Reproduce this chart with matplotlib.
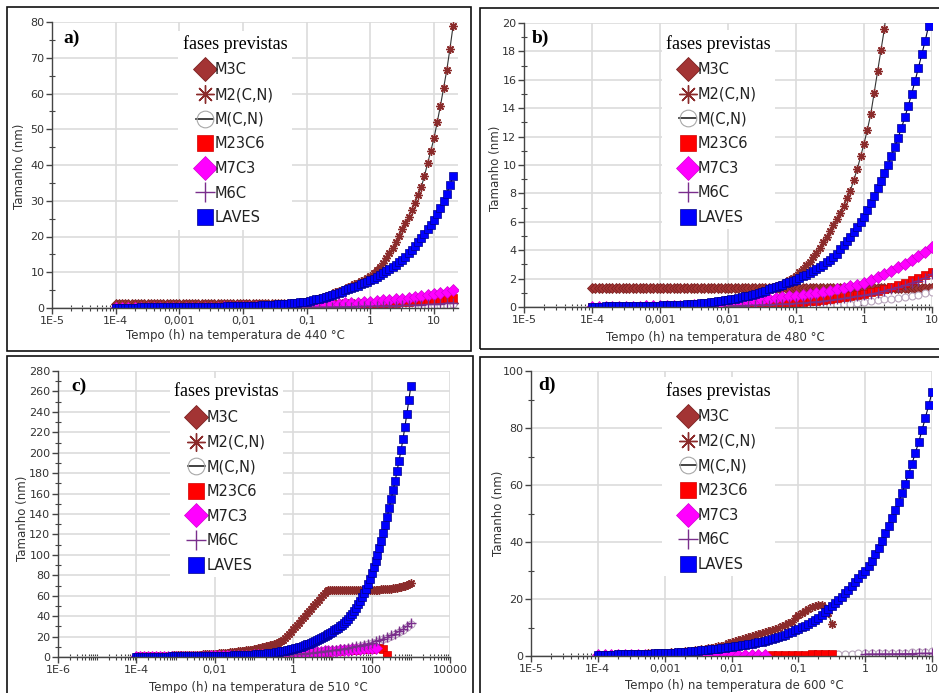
import numpy as np
import matplotlib
matplotlib.use('Agg')
import matplotlib.pyplot as plt
from matplotlib.lines import Line2D
from matplotlib.patches import Rectangle
from matplotlib.font_manager import FontProperties
from matplotlib.ticker import FixedLocator, MultipleLocator, LogLocator, NullFormatter

# tamanho medio (nm) das fases vs tempo
# cada serie: expoente do primeiro tempo (log10 h), passo em decadas e valores

# ---- a) 440 C ----
a_m3c_t0, a_m3c_dt = -4.0, 0.05
a_m3c = [1.20, 1.20, 1.20, 1.20, 1.20, 1.20, 1.20, 1.20, 1.20, 1.20, 1.20, 1.20, 1.20, 1.20, 1.20, 1.20, 1.20, 1.20, 1.20, 1.20,
         1.20, 1.20, 1.20, 1.20, 1.20, 1.20, 1.20, 1.20, 1.20, 1.20, 1.20, 1.20, 1.20, 1.20, 1.20, 1.20, 1.20, 1.20, 1.20, 1.20,
         1.20, 1.20, 1.20, 1.20, 1.20, 1.20, 1.20, 1.20, 1.20, 1.20, 1.20, 1.20, 1.20, 1.20, 1.20, 1.20, 1.20, 1.20, 1.20, 1.20,
         1.20, 1.20, 1.20, 1.20, 1.20, 1.20, 1.20, 1.20, 1.20, 1.20, 1.20, 1.20, 1.20, 1.20, 1.20, 1.20, 1.20, 1.20, 1.20, 1.20,
         1.20, 1.21, 1.22, 1.23, 1.24, 1.25, 1.26, 1.27, 1.28, 1.29, 1.30, 1.31, 1.32, 1.33, 1.34, 1.35, 1.36, 1.37, 1.38, 1.39,
         1.40, 1.41, 1.42, 1.44, 1.46, 1.48, 1.50]
a_m2_t0, a_m2_dt = -4.0, 0.05
a_m2 = [0.08, 0.085, 0.09, 0.095, 0.10, 0.105, 0.11, 0.115, 0.12, 0.125, 0.13, 0.135, 0.14, 0.145, 0.15, 0.155, 0.16, 0.165, 0.17, 0.175,
        0.18, 0.19, 0.20, 0.21, 0.22, 0.235, 0.25, 0.265, 0.28, 0.295, 0.31, 0.325, 0.34, 0.355, 0.37, 0.385, 0.40, 0.42, 0.44, 0.46,
        0.48, 0.515, 0.55, 0.585, 0.62, 0.66, 0.70, 0.75, 0.80, 0.85, 0.90, 0.975, 1.05, 1.13, 1.22, 1.31, 1.40, 1.50, 1.60, 1.72,
        1.85, 2.07, 2.3, 2.55, 2.8, 3.1, 3.4, 3.7, 4.0, 4.35, 4.7, 5.05, 5.4, 5.8, 6.2, 6.6, 7.0, 7.45, 7.9, 8.45,
        9.0, 9.7, 10.5, 11.5, 12.6, 13.9, 15.3, 16.8, 18.4, 20.2, 22.0, 23.7, 25.5, 27.5, 29.5, 31.6, 33.8, 37.0, 40.5, 44.0,
        47.5, 52.0, 56.5, 61.5, 66.5, 72.5, 79.0]
a_mcn_t0, a_mcn_dt = -1.0, 0.1
a_mcn = [0.05, 0.06, 0.07, 0.08, 0.10, 0.12, 0.14, 0.16, 0.19, 0.22,
         0.25, 0.28, 0.32, 0.36, 0.40, 0.45, 0.50, 0.56, 0.62, 0.69,
         0.76, 0.84, 0.92, 1.00]
a_m23_t0, a_m23_dt = -4.0, 0.1
a_m23 = [0.01, 0.01, 0.01, 0.01, 0.02, 0.02, 0.02, 0.02, 0.03, 0.03,
         0.03, 0.04, 0.04, 0.05, 0.05, 0.06, 0.07, 0.08, 0.09, 0.10,
         0.11, 0.13, 0.15, 0.17, 0.19, 0.22, 0.25, 0.29, 0.33, 0.37,
         0.40, 0.45, 0.50, 0.56, 0.62, 0.68, 0.74, 0.80, 0.87, 0.93,
         1.00, 1.11, 1.22, 1.34, 1.46, 1.60, 1.72, 1.85, 1.99, 2.14,
         2.30, 2.48, 2.68, 2.90]
a_m7_t0, a_m7_dt = -4.0, 0.1
a_m7 = [0.02, 0.02, 0.02, 0.03, 0.03, 0.03, 0.04, 0.04, 0.05, 0.05,
        0.06, 0.07, 0.08, 0.09, 0.10, 0.11, 0.13, 0.15, 0.17, 0.19,
        0.21, 0.24, 0.27, 0.31, 0.35, 0.39, 0.44, 0.50, 0.56, 0.63,
        0.70, 0.78, 0.86, 0.95, 1.05, 1.15, 1.27, 1.40, 1.53, 1.66,
        1.80, 1.95, 2.10, 2.27, 2.45, 2.65, 2.86, 3.08, 3.32, 3.58,
        3.90, 4.25, 4.60, 5.00]
a_m6_t0, a_m6_dt = -2.0, 0.1
a_m6 = [0.05, 0.06, 0.07, 0.08, 0.09, 0.10, 0.12, 0.14, 0.16, 0.18,
        0.20, 0.22, 0.25, 0.28, 0.31, 0.34, 0.37, 0.40, 0.44, 0.47,
        0.50, 0.54, 0.58, 0.62, 0.67, 0.72, 0.78, 0.85, 0.92, 1.00,
        1.10, 1.21, 1.34, 1.48]
a_lav_t0, a_lav_dt = -4.0, 0.05
a_lav = [0.10, 0.105, 0.11, 0.115, 0.12, 0.125, 0.13, 0.135, 0.14, 0.145, 0.15, 0.155, 0.16, 0.165, 0.17, 0.175, 0.18, 0.185, 0.19, 0.195,
         0.20, 0.215, 0.23, 0.24, 0.25, 0.265, 0.28, 0.295, 0.31, 0.33, 0.35, 0.365, 0.38, 0.395, 0.41, 0.425, 0.44, 0.455, 0.47, 0.485,
         0.50, 0.535, 0.57, 0.605, 0.64, 0.68, 0.72, 0.765, 0.81, 0.855, 0.90, 0.98, 1.06, 1.15, 1.24, 1.33, 1.42, 1.51, 1.60, 1.70,
         1.80, 2.0, 2.2, 2.4, 2.6, 2.85, 3.1, 3.4, 3.7, 4.0, 4.3, 4.6, 4.9, 5.25, 5.6, 5.9, 6.2, 6.6, 7.0, 7.4,
         7.8, 8.25, 8.7, 9.2, 9.7, 10.3, 10.9, 11.5, 12.1, 12.8, 13.5, 14.4, 15.3, 16.3, 17.4, 18.5, 19.6, 20.8, 22.0, 23.3,
         24.6, 26.2, 28.0, 30.0, 32.0, 34.4, 37.0]

# ---- b) 480 C ----
b_m3c_t0, b_m3c_dt = -4.0, 0.05
b_m3c = [1.35, 1.35, 1.35, 1.35, 1.35, 1.35, 1.35, 1.35, 1.35, 1.35, 1.35, 1.35, 1.35, 1.35, 1.35, 1.35, 1.35, 1.35, 1.35, 1.35,
         1.35, 1.35, 1.35, 1.35, 1.35, 1.35, 1.35, 1.35, 1.35, 1.35, 1.35, 1.35, 1.35, 1.35, 1.35, 1.35, 1.35, 1.35, 1.35, 1.35,
         1.35, 1.35, 1.35, 1.35, 1.35, 1.35, 1.35, 1.35, 1.35, 1.35, 1.35, 1.35, 1.35, 1.35, 1.35, 1.35, 1.35, 1.35, 1.35, 1.35,
         1.35, 1.35, 1.35, 1.35, 1.35, 1.35, 1.35, 1.35, 1.35, 1.35, 1.35, 1.35, 1.35, 1.35, 1.35, 1.35, 1.35, 1.35, 1.35, 1.35,
         1.35, 1.35, 1.35, 1.35, 1.35, 1.35, 1.35, 1.35, 1.35, 1.35, 1.35, 1.35, 1.35, 1.35, 1.35, 1.35, 1.35, 1.35, 1.35, 1.35,
         1.35]
b_m2_t0, b_m2_dt = -4.0, 0.05
b_m2 = [0.03, 0.03, 0.03, 0.035, 0.04, 0.04, 0.04, 0.045, 0.05, 0.05, 0.05, 0.055, 0.06, 0.065, 0.07, 0.075, 0.08, 0.085, 0.09, 0.095,
        0.10, 0.11, 0.12, 0.13, 0.14, 0.15, 0.16, 0.175, 0.19, 0.205, 0.22, 0.24, 0.26, 0.285, 0.31, 0.335, 0.36, 0.395, 0.43, 0.465,
        0.50, 0.54, 0.58, 0.63, 0.68, 0.74, 0.80, 0.87, 0.94, 1.02, 1.10, 1.18, 1.27, 1.36, 1.45, 1.55, 1.65, 1.77, 1.90, 2.05,
        2.20, 2.45, 2.70, 2.95, 3.20, 3.50, 3.80, 4.17, 4.55, 4.95, 5.35, 5.77, 6.20, 6.65, 7.10, 7.65, 8.20, 8.95, 9.70, 10.6,
        11.5, 12.5, 13.6, 15.1, 16.6, 18.1, 19.6, 21.8, 24.0]
b_mcn_t0, b_mcn_dt = -1.0, 0.1
b_mcn = [0.02, 0.03, 0.04, 0.05, 0.07, 0.10, 0.14, 0.19, 0.24, 0.29,
         0.35, 0.41, 0.47, 0.53, 0.59, 0.65, 0.72, 0.79, 0.87, 0.96,
         1.05]
b_m23_t0, b_m23_dt = -4.0, 0.1
b_m23 = [0.01, 0.01, 0.01, 0.01, 0.01, 0.02, 0.02, 0.02, 0.02, 0.03,
         0.03, 0.03, 0.04, 0.04, 0.05, 0.05, 0.06, 0.07, 0.08, 0.09,
         0.10, 0.11, 0.12, 0.14, 0.16, 0.18, 0.20, 0.22, 0.25, 0.27,
         0.30, 0.34, 0.39, 0.44, 0.49, 0.55, 0.62, 0.70, 0.78, 0.86,
         0.95, 1.05, 1.16, 1.28, 1.41, 1.55, 1.71, 1.88, 2.07, 2.28,
         2.50]
b_m7_t0, b_m7_dt = -4.0, 0.1
b_m7 = [0.01, 0.01, 0.01, 0.02, 0.02, 0.02, 0.03, 0.03, 0.04, 0.04,
        0.05, 0.06, 0.07, 0.08, 0.09, 0.11, 0.13, 0.15, 0.18, 0.21,
        0.25, 0.30, 0.35, 0.40, 0.45, 0.50, 0.56, 0.62, 0.68, 0.74,
        0.80, 0.86, 0.92, 0.99, 1.07, 1.15, 1.25, 1.36, 1.47, 1.58,
        1.70, 1.88, 2.08, 2.30, 2.54, 2.80, 3.05, 3.32, 3.60, 3.90,
        4.20]
b_m6_t0, b_m6_dt = -2.0, 0.1
b_m6 = [0.08, 0.09, 0.10, 0.11, 0.13, 0.15, 0.17, 0.19, 0.21, 0.23,
        0.26, 0.29, 0.33, 0.37, 0.42, 0.47, 0.53, 0.60, 0.67, 0.75,
        0.83, 0.92, 1.02, 1.13, 1.25, 1.38, 1.52, 1.68, 1.86, 2.06,
        2.30]
b_lav_t0, b_lav_dt = -4.0, 0.05
b_lav = [0.03, 0.03, 0.03, 0.035, 0.04, 0.04, 0.04, 0.045, 0.05, 0.05, 0.05, 0.055, 0.06, 0.065, 0.07, 0.075, 0.08, 0.085, 0.09, 0.095,
         0.10, 0.11, 0.12, 0.13, 0.14, 0.15, 0.16, 0.175, 0.19, 0.205, 0.22, 0.24, 0.26, 0.285, 0.31, 0.335, 0.36, 0.395, 0.43, 0.465,
         0.50, 0.54, 0.58, 0.63, 0.68, 0.74, 0.80, 0.87, 0.94, 1.01, 1.08, 1.16, 1.24, 1.32, 1.40, 1.485, 1.57, 1.655, 1.74, 1.83,
         1.92, 2.03, 2.15, 2.27, 2.40, 2.54, 2.68, 2.83, 2.98, 3.14, 3.30, 3.52, 3.75, 4.05, 4.35, 4.65, 4.95, 5.27, 5.60, 5.97,
         6.35, 6.82, 7.30, 7.82, 8.35, 8.90, 9.45, 10.0, 10.6, 11.25, 11.9, 12.6, 13.35, 14.15, 15.0, 15.9, 16.85, 17.8, 18.75, 19.8]

# ---- c) 510 C ----
c_m2_t0, c_m2_dt = -4.0, 0.05
c_m2 = [1.0, 1.0, 1.0, 1.05, 1.1, 1.1, 1.1, 1.15, 1.2, 1.2, 1.2, 1.25, 1.3, 1.3, 1.3, 1.35, 1.4, 1.45, 1.5, 1.55,
        1.6, 1.65, 1.7, 1.75, 1.8, 1.85, 1.9, 1.95, 2.0, 2.05, 2.1, 2.2, 2.3, 2.4, 2.5, 2.6, 2.7, 2.8, 2.9, 3.05,
        3.2, 3.35, 3.5, 3.65, 3.8, 4.0, 4.2, 4.4, 4.6, 4.8, 5.0, 5.25, 5.5, 5.75, 6.0, 6.25, 6.5, 6.75, 7.0, 7.25,
        7.5, 8.0, 8.5, 9.0, 9.5, 10.0, 10.5, 11.0, 11.5, 12.05, 12.6, 13.2, 13.8, 14.6, 15.5, 17.0, 18.5, 20.5, 22.5, 24.7,
        27.0, 29.2, 31.5, 33.7, 36.0, 38.2, 40.5, 42.7, 45.0, 47.2, 49.5, 51.7, 54.0, 56.2, 58.5, 60.7, 63.0, 64.5, 65.3, 65.5,
        65.5, 65.5, 65.5, 65.5, 65.5, 65.5, 65.5, 65.5, 65.5, 65.5, 65.5, 65.5, 65.5, 65.5, 65.5, 65.5, 65.5, 65.5, 65.5, 65.5,
        65.6, 65.7, 65.8, 65.9, 66.0, 66.15, 66.3, 66.45, 66.6, 66.8, 67.0, 67.25, 67.5, 67.85, 68.2, 68.6, 69.1, 69.7, 70.4, 71.2,
        72.0]
c_mcn_t0, c_mcn_dt = 0.0, 0.1
c_mcn = [2.2, 2.5, 2.8, 3.1, 3.4, 3.7, 4.1, 4.6, 5.1, 5.6,
         6.1, 6.6, 7.1, 7.7, 8.4, 9.1, 9.9, 10.8, 11.7, 12.6,
         13.6, 14.8, 16.1, 17.5, 19.0, 20.7, 22.5, 24.5, 26.7, 29.4,
         32.4]
c_m23_t0, c_m23_dt = -2.0, 0.1
c_m23 = [0.30, 0.34, 0.38, 0.43, 0.48, 0.54, 0.61, 0.69, 0.78, 0.88,
         1.00, 1.13, 1.27, 1.42, 1.58, 1.75, 1.93, 2.12, 2.32, 2.53,
         2.75, 2.98, 3.22, 3.47, 3.73, 4.00, 4.28, 4.57, 4.87, 5.18,
         5.50, 5.80, 6.10, 6.40, 6.70, 7.00, 7.30, 7.55, 7.80, 8.00,
         8.30, 8.70, 9.00, 8.00, 2.00]
c_m7_t0, c_m7_dt = -4.0, 0.1
c_m7 = [0.05, 0.06, 0.07, 0.08, 0.09, 0.10, 0.12, 0.14, 0.16, 0.18,
        0.20, 0.23, 0.26, 0.29, 0.32, 0.35, 0.38, 0.42, 0.46, 0.50,
        0.55, 0.60, 0.66, 0.72, 0.79, 0.87, 0.96, 1.06, 1.18, 1.32,
        1.50, 1.68, 1.86, 2.05, 2.25, 2.45, 2.66, 2.87, 3.08, 3.29,
        3.50, 3.75, 4.00, 4.25, 4.50, 4.75, 5.00, 5.25, 5.50, 5.75,
        6.00, 6.30, 6.60, 6.90, 7.20, 7.50, 7.80, 8.10, 8.35, 8.60,
        8.85, 9.20]
c_m6_t0, c_m6_dt = -2.0, 0.1
c_m6 = [0.30, 0.35, 0.40, 0.45, 0.50, 0.55, 0.60, 0.66, 0.72, 0.76,
        0.80, 0.95, 1.10, 1.25, 1.40, 1.55, 1.72, 1.90, 2.10, 2.30,
        2.50, 2.80, 3.10, 3.40, 3.70, 4.00, 4.45, 4.95, 5.45, 5.95,
        6.50, 7.00, 7.50, 8.10, 8.80, 9.50, 10.3, 11.2, 12.1, 13.0,
        14.0, 15.2, 16.5, 18.0, 19.5, 21.2, 23.0, 25.0, 27.2, 30.0,
        33.0]
c_lav_t0, c_lav_dt = -4.0, 0.05
c_lav = [0.30, 0.305, 0.31, 0.315, 0.32, 0.33, 0.34, 0.35, 0.36, 0.37, 0.38, 0.39, 0.40, 0.415, 0.43, 0.445, 0.46, 0.475, 0.49, 0.505,
         0.52, 0.54, 0.56, 0.58, 0.60, 0.625, 0.65, 0.675, 0.70, 0.725, 0.75, 0.775, 0.80, 0.825, 0.85, 0.875, 0.90, 0.925, 0.95, 0.975,
         1.0, 1.05, 1.1, 1.15, 1.2, 1.25, 1.3, 1.35, 1.4, 1.45, 1.5, 1.55, 1.6, 1.67, 1.75, 1.82, 1.9, 2.0, 2.1, 2.2,
         2.3, 2.45, 2.6, 2.75, 2.9, 3.1, 3.3, 3.5, 3.7, 3.95, 4.2, 4.5, 4.8, 5.15, 5.5, 5.9, 6.3, 6.7, 7.1, 7.55,
         8.0, 8.5, 9.0, 9.6, 10.2, 10.85, 11.5, 12.25, 13.0, 13.8, 14.6, 15.5, 16.4, 17.4, 18.4, 19.45, 20.5, 21.55, 22.6, 23.7,
         24.8, 26.0, 27.2, 28.6, 30.0, 31.8, 33.6, 35.5, 37.5, 39.9, 42.3, 45.1, 48.0, 51.4, 54.8, 58.6, 62.5, 67.0, 71.5, 76.7,
         82.0, 87.7, 93.5, 100.0, 106.5, 113.7, 121.0, 129.2, 137.5, 146.2, 155.0, 163.5, 172.0, 182.0, 192.0, 202.5, 213.0, 225.5, 238.0, 251.5,
         265.0]

# ---- d) 600 C ----
d_m2_t0, d_m2_dt = -4.0, 0.05
d_m2 = [0.45, 0.475, 0.50, 0.525, 0.55, 0.575, 0.60, 0.63, 0.66, 0.69, 0.72, 0.75, 0.78, 0.82, 0.86, 0.905, 0.95, 1.0, 1.05, 1.10,
        1.15, 1.22, 1.30, 1.37, 1.45, 1.55, 1.65, 1.77, 1.90, 2.05, 2.20, 2.37, 2.55, 2.75, 2.95, 3.17, 3.40, 3.65, 3.90, 4.40,
        4.9, 5.2, 5.5, 5.85, 6.2, 6.55, 6.9, 7.25, 7.6, 8.0, 8.4, 8.8, 9.2, 9.6, 10.0, 10.5, 11.0, 11.55, 12.1, 13.2,
        14.3, 15.05, 15.8, 16.55, 17.3, 17.7, 18.0, 17.8, 17.0, 15.0, 11.3]
d_mcn_t0, d_mcn_dt = -0.5, 0.1
d_mcn = [0.80, 0.82, 0.84, 0.86, 0.88, 0.90, 0.93, 0.96, 1.00, 1.05,
         1.10, 1.17, 1.25, 1.35, 1.47, 1.60]
d_m23_t0, d_m23_dt = -1.4, 0.1
d_m23 = [0.50, 0.50, 0.51, 0.51, 0.52, 0.52, 0.53, 0.53, 0.54, 0.54]
d_m7_t0, d_m7_dt = -4.0, 0.1
d_m7 = [0.30, 0.30, 0.31, 0.31, 0.32, 0.32, 0.33, 0.33, 0.34, 0.34,
        0.35, 0.36, 0.37, 0.38, 0.39, 0.40, 0.41, 0.42, 0.43, 0.44,
        0.45, 0.46, 0.47, 0.48, 0.49, 0.50]
d_m6_t0, d_m6_dt = 0.0, 0.1
d_m6 = [0.70, 0.72, 0.74, 0.76, 0.78, 0.80, 0.83, 0.86, 0.90, 0.95, 1.00]
d_lav_t0, d_lav_dt = -4.0, 0.05
d_lav = [0.40, 0.425, 0.45, 0.475, 0.50, 0.525, 0.55, 0.575, 0.60, 0.625, 0.65, 0.675, 0.70, 0.74, 0.78, 0.82, 0.86, 0.905, 0.95, 1.0,
         1.05, 1.10, 1.15, 1.22, 1.30, 1.37, 1.45, 1.55, 1.65, 1.75, 1.85, 1.97, 2.10, 2.22, 2.35, 2.47, 2.60, 2.75, 2.90, 3.05,
         3.20, 3.37, 3.55, 3.72, 3.90, 4.10, 4.30, 4.55, 4.80, 5.05, 5.30, 5.60, 5.90, 6.22, 6.55, 6.97, 7.40, 7.90, 8.40, 8.95,
         9.50, 10.05, 10.6, 11.2, 11.8, 12.6, 13.4, 14.35, 15.3, 16.4, 17.5, 18.5, 19.5, 20.75, 22.0, 23.25, 24.5, 25.85, 27.2, 28.6,
         30.0, 31.7, 33.5, 35.7, 38.0, 40.5, 43.0, 45.7, 48.5, 51.2, 54.0, 57.2, 60.5, 64.0, 67.5, 71.2, 75.0, 79.2, 83.5, 88.0,
         92.5]

phases = ['M3C', 'M2(C,N)', 'M(C,N)', 'M23C6', 'M7C3', 'M6C', 'LAVES']
temps = [440, 480, 510, 600]

x_lbl_dec = ['1E-5', '1E-4', '0,001', '0,01', '0,1', '1', '10']
x_lbl_c = ['1E-6', '1E-4', '0,01', '1', '100', '10000']

style = {
    'M3C':     dict(marker='D', ms=5.5, mfc='#a33434', mec='#7d2222', mew=0.6, color='#7d2222'),
    'M2(C,N)': dict(marker=(8, 2, 0), ms=6, mfc='#8b2b2b', mec='#8b2b2b', mew=1.0, color='#333333'),
    'M(C,N)':  dict(marker='o', ms=5, mfc='white', mec='#b9a6bd', mew=0.8, color='#222222'),
    'M23C6':   dict(marker='s', ms=6, mfc='#ff0000', mec='#d00000', mew=0.5, color='#b00000'),
    'M7C3':    dict(marker='D', ms=6.5, mfc='#ff00ff', mec='#d000d0', mew=0.5, color='#c000c0'),
    'M6C':     dict(marker='+', ms=7, mfc='#7a2e8c', mec='#7a2e8c', mew=1.0, color='#7a2e8c'),
    'LAVES':   dict(marker='s', ms=5.4, mfc='#0000ff', mec='#00008a', mew=0.5, color='#000033'),
}


def tgrid(first, step, vals):
    n = len(vals)
    return np.logspace(first, first + step * (n - 1), n)


W, H = 939, 693
fig = plt.figure(figsize=(W / 100, H / 100), dpi=100)
fig.patch.set_facecolor('white')

# moldura de cada quadro (pixels: x0, y0, x1, y1)
for x0, y0, x1, y1 in [(7, 7, 471, 351), (480, 8, 946, 349),
                       (7, 356, 473, 700), (480, 357, 946, 700)]:
    fig.add_artist(Rectangle((x0 / W, 1 - y1 / H), (x1 - x0) / W, (y1 - y0) / H,
                             transform=fig.transFigure, fill=False,
                             ec='#111111', lw=1.2))

panels = [
    dict(box=(52, 458, 22, 308), xlim=(1e-5, 23.8), ylim=(0, 80), ymaj=10, ymin=5,
         xt=[1e-5, 1e-4, 1e-3, 1e-2, 1e-1, 1, 10], xl=x_lbl_dec, tag='a)',
         series=[('M3C', a_m3c_t0, a_m3c_dt, a_m3c), ('M2(C,N)', a_m2_t0, a_m2_dt, a_m2),
                 ('M(C,N)', a_mcn_t0, a_mcn_dt, a_mcn), ('M23C6', a_m23_t0, a_m23_dt, a_m23),
                 ('M7C3', a_m7_t0, a_m7_dt, a_m7), ('M6C', a_m6_t0, a_m6_dt, a_m6),
                 ('LAVES', a_lav_t0, a_lav_dt, a_lav)],
         leg=(0.451, 0.970), xlab=(0.453, -0.073), ylab=(-0.064, 0.494), tagpos=(0.027, 0.944)),
    dict(box=(524, 932, 23, 307), xlim=(1e-5, 10), ylim=(0, 20), ymaj=2, ymin=1,
         xt=[1e-5, 1e-4, 1e-3, 1e-2, 1e-1, 1, 10], xl=x_lbl_dec, tag='b)',
         series=[('M3C', b_m3c_t0, b_m3c_dt, b_m3c), ('M2(C,N)', b_m2_t0, b_m2_dt, b_m2),
                 ('M(C,N)', b_mcn_t0, b_mcn_dt, b_mcn), ('M23C6', b_m23_t0, b_m23_dt, b_m23),
                 ('M7C3', b_m7_t0, b_m7_dt, b_m7), ('M6C', b_m6_t0, b_m6_dt, b_m6),
                 ('LAVES', b_lav_t0, b_lav_dt, b_lav)],
         leg=(0.476, 0.974), xlab=(0.47, -0.083), ylab=(-0.054, 0.49), tagpos=(0.019, 0.945)),
    dict(box=(58, 450, 371, 657), xlim=(1e-6, 1e4), ylim=(0, 280), ymaj=20, ymin=10,
         xt=[1e-6, 1e-4, 1e-2, 1, 100, 1e4], xl=x_lbl_c, tag='c)',
         series=[('M2(C,N)', c_m2_t0, c_m2_dt, c_m2), ('M(C,N)', c_mcn_t0, c_mcn_dt, c_mcn),
                 ('M23C6', c_m23_t0, c_m23_dt, c_m23), ('M7C3', c_m7_t0, c_m7_dt, c_m7),
                 ('M6C', c_m6_t0, c_m6_dt, c_m6), ('LAVES', c_lav_t0, c_lav_dt, c_lav)],
         leg=(0.430, 0.975), xlab=(0.511, -0.083), ylab=(-0.075, 0.486), tagpos=(0.035, 0.948)),
    dict(box=(531, 932, 371, 656), xlim=(1e-5, 10), ylim=(0, 100), ymaj=20, ymin=10,
         xt=[1e-5, 1e-4, 1e-3, 1e-2, 1e-1, 1, 10], xl=x_lbl_dec, tag='d)',
         series=[('M2(C,N)', d_m2_t0, d_m2_dt, d_m2), ('M(C,N)', d_mcn_t0, d_mcn_dt, d_mcn),
                 ('M23C6', d_m23_t0, d_m23_dt, d_m23), ('M7C3', d_m7_t0, d_m7_dt, d_m7),
                 ('M6C', d_m6_t0, d_m6_dt, d_m6), ('LAVES', d_lav_t0, d_lav_dt, d_lav)],
         leg=(0.467, 0.978), xlab=(0.506, -0.081), ylab=(-0.064, 0.5), tagpos=(0.017, 0.949)),
]

serif = 'Liberation Serif'
axis_col = '#444444'

for p, temp in zip(panels, temps):
    l, r, t, b = p['box']
    ax = fig.add_axes([l / W, 1 - b / H, (r - l) / W, (b - t) / H])
    ax.set_xscale('log')
    ax.set_xlim(*p['xlim'])
    ax.set_ylim(*p['ylim'])
    ax.set_axisbelow(True)

    for name, t0, dt, vals in p['series']:
        ax.plot(tgrid(t0, dt, vals), vals, lw=0.8, **style[name])

    ax.xaxis.set_major_locator(FixedLocator(p['xt']))
    ax.set_xticklabels(p['xl'])
    ax.xaxis.set_minor_locator(LogLocator(base=10, subs=np.arange(1, 10), numticks=30))
    ax.xaxis.set_minor_formatter(NullFormatter())
    ax.yaxis.set_major_locator(MultipleLocator(p['ymaj']))
    ax.yaxis.set_minor_locator(MultipleLocator(p['ymin']))

    ax.grid(True, which='major', color='#dcdcdc', lw=1.2)
    for side in ('top', 'right'):
        ax.spines[side].set_visible(False)
    for side in ('left', 'bottom'):
        ax.spines[side].set_color(axis_col)
        ax.spines[side].set_linewidth(1.0)
    ax.tick_params(which='major', direction='out', length=4, width=1,
                   color=axis_col, labelsize=8, labelcolor='#333333', pad=1.5)
    ax.tick_params(which='minor', direction='inout', length=5, width=0.8, color=axis_col)

    ax.set_xlabel('Tempo (h) na temperatura de %d °C' % temp, fontsize=8.5, color='#333333')
    ax.set_ylabel('Tamanho (nm)', fontsize=8.5, color='#333333')
    ax.xaxis.set_label_coords(*p['xlab'])
    ax.yaxis.set_label_coords(*p['ylab'])

    ax.text(p['tagpos'][0], p['tagpos'][1], p['tag'], transform=ax.transAxes,
            fontfamily=serif, fontweight='bold', fontsize=14, ha='left', va='center')

    handles = []
    for name in phases:
        s = dict(style[name])
        s['ms'] = {'M6C': 14, 'M2(C,N)': 13}.get(name, 12)
        ls = 'None'
        if name == 'M(C,N)':
            ls = '-'
            s['mfc'] = 'none'
            s['mec'] = '#a8a8a8'
        handles.append(Line2D([], [], linestyle=ls, lw=1.2, **s))
    leg = ax.legend(handles, phases, loc='upper center', bbox_to_anchor=p['leg'],
                    title='fases previstas',
                    title_fontproperties=FontProperties(family=serif, size=13),
                    prop=dict(size=10.5), frameon=True, fancybox=False,
                    handlelength=1.15, handletextpad=0.12, labelspacing=0.66,
                    borderpad=0.3, borderaxespad=0)
    leg.get_frame().set_edgecolor('none')
    leg.get_frame().set_facecolor('white')
    leg.get_frame().set_alpha(1)
    for txt in leg.get_texts():
        txt.set_color('#222222')

fig.savefig('out.png', dpi=100, facecolor='white')
